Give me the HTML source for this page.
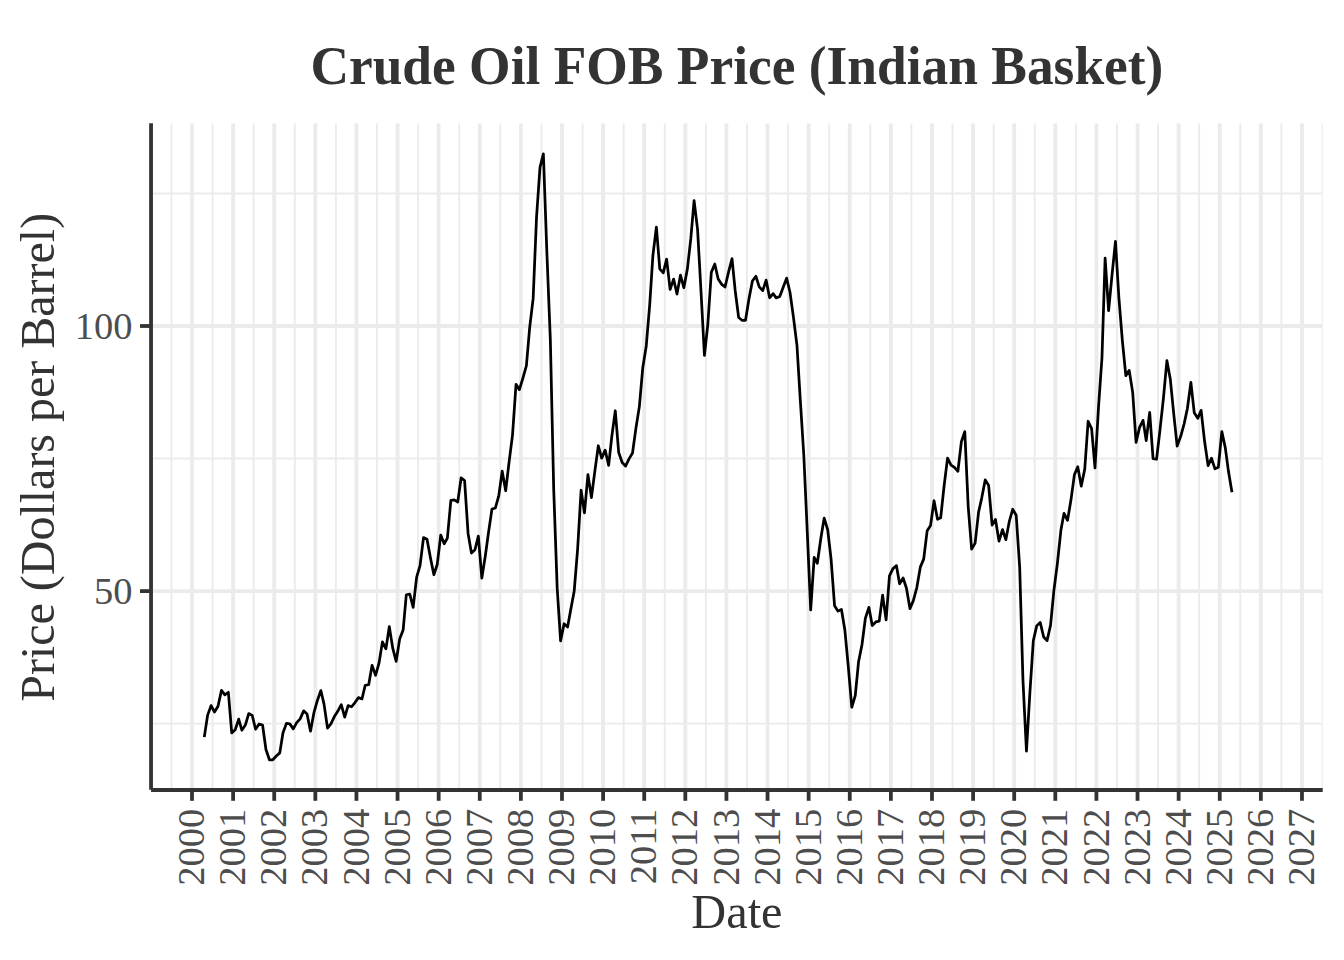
<!DOCTYPE html>
<html><head><meta charset="utf-8"><style>
html,body{margin:0;padding:0;background:#fff;}
svg{display:block;}
text{font-family:"Liberation Serif",serif;}
.ax{font-size:38.5px;fill:#4D4D4D;}
.axt{font-size:48.3px;fill:#333333;}
.title{font-size:55px;font-weight:bold;fill:#333333;}
</style></head><body>
<svg width="1344" height="960" viewBox="0 0 1344 960">
<rect width="1344" height="960" fill="#fff"/>
<defs><clipPath id="pc"><rect x="151.05" y="123.2" width="1171.65" height="666.80"/></clipPath></defs>
<g clip-path="url(#pc)">
<line x1="151.05" x2="1322.7" y1="723.65" y2="723.65" stroke="#EBEBEB" stroke-width="1.9"/>
<line x1="151.05" x2="1322.7" y1="458.55" y2="458.55" stroke="#EBEBEB" stroke-width="1.9"/>
<line x1="151.05" x2="1322.7" y1="193.45" y2="193.45" stroke="#EBEBEB" stroke-width="1.9"/>
<line x1="171.44" x2="171.44" y1="123.2" y2="790.0" stroke="#EBEBEB" stroke-width="1.9"/>
<line x1="212.56" x2="212.56" y1="123.2" y2="790.0" stroke="#EBEBEB" stroke-width="1.9"/>
<line x1="253.66" x2="253.66" y1="123.2" y2="790.0" stroke="#EBEBEB" stroke-width="1.9"/>
<line x1="294.77" x2="294.77" y1="123.2" y2="790.0" stroke="#EBEBEB" stroke-width="1.9"/>
<line x1="335.88" x2="335.88" y1="123.2" y2="790.0" stroke="#EBEBEB" stroke-width="1.9"/>
<line x1="377.00" x2="377.00" y1="123.2" y2="790.0" stroke="#EBEBEB" stroke-width="1.9"/>
<line x1="418.11" x2="418.11" y1="123.2" y2="790.0" stroke="#EBEBEB" stroke-width="1.9"/>
<line x1="459.21" x2="459.21" y1="123.2" y2="790.0" stroke="#EBEBEB" stroke-width="1.9"/>
<line x1="500.32" x2="500.32" y1="123.2" y2="790.0" stroke="#EBEBEB" stroke-width="1.9"/>
<line x1="541.43" x2="541.43" y1="123.2" y2="790.0" stroke="#EBEBEB" stroke-width="1.9"/>
<line x1="582.55" x2="582.55" y1="123.2" y2="790.0" stroke="#EBEBEB" stroke-width="1.9"/>
<line x1="623.65" x2="623.65" y1="123.2" y2="790.0" stroke="#EBEBEB" stroke-width="1.9"/>
<line x1="664.76" x2="664.76" y1="123.2" y2="790.0" stroke="#EBEBEB" stroke-width="1.9"/>
<line x1="705.88" x2="705.88" y1="123.2" y2="790.0" stroke="#EBEBEB" stroke-width="1.9"/>
<line x1="746.99" x2="746.99" y1="123.2" y2="790.0" stroke="#EBEBEB" stroke-width="1.9"/>
<line x1="788.10" x2="788.10" y1="123.2" y2="790.0" stroke="#EBEBEB" stroke-width="1.9"/>
<line x1="829.21" x2="829.21" y1="123.2" y2="790.0" stroke="#EBEBEB" stroke-width="1.9"/>
<line x1="870.31" x2="870.31" y1="123.2" y2="790.0" stroke="#EBEBEB" stroke-width="1.9"/>
<line x1="911.42" x2="911.42" y1="123.2" y2="790.0" stroke="#EBEBEB" stroke-width="1.9"/>
<line x1="952.53" x2="952.53" y1="123.2" y2="790.0" stroke="#EBEBEB" stroke-width="1.9"/>
<line x1="993.64" x2="993.64" y1="123.2" y2="790.0" stroke="#EBEBEB" stroke-width="1.9"/>
<line x1="1034.76" x2="1034.76" y1="123.2" y2="790.0" stroke="#EBEBEB" stroke-width="1.9"/>
<line x1="1075.87" x2="1075.87" y1="123.2" y2="790.0" stroke="#EBEBEB" stroke-width="1.9"/>
<line x1="1116.97" x2="1116.97" y1="123.2" y2="790.0" stroke="#EBEBEB" stroke-width="1.9"/>
<line x1="1158.09" x2="1158.09" y1="123.2" y2="790.0" stroke="#EBEBEB" stroke-width="1.9"/>
<line x1="1199.19" x2="1199.19" y1="123.2" y2="790.0" stroke="#EBEBEB" stroke-width="1.9"/>
<line x1="1240.31" x2="1240.31" y1="123.2" y2="790.0" stroke="#EBEBEB" stroke-width="1.9"/>
<line x1="1281.41" x2="1281.41" y1="123.2" y2="790.0" stroke="#EBEBEB" stroke-width="1.9"/>
<line x1="1322.53" x2="1322.53" y1="123.2" y2="790.0" stroke="#EBEBEB" stroke-width="1.9"/>
<line x1="151.05" x2="1322.7" y1="591.10" y2="591.10" stroke="#EBEBEB" stroke-width="3.8"/>
<line x1="151.05" x2="1322.7" y1="326.00" y2="326.00" stroke="#EBEBEB" stroke-width="3.8"/>
<line x1="192.00" x2="192.00" y1="123.2" y2="790.0" stroke="#EBEBEB" stroke-width="3.8"/>
<line x1="233.11" x2="233.11" y1="123.2" y2="790.0" stroke="#EBEBEB" stroke-width="3.8"/>
<line x1="274.22" x2="274.22" y1="123.2" y2="790.0" stroke="#EBEBEB" stroke-width="3.8"/>
<line x1="315.33" x2="315.33" y1="123.2" y2="790.0" stroke="#EBEBEB" stroke-width="3.8"/>
<line x1="356.44" x2="356.44" y1="123.2" y2="790.0" stroke="#EBEBEB" stroke-width="3.8"/>
<line x1="397.55" x2="397.55" y1="123.2" y2="790.0" stroke="#EBEBEB" stroke-width="3.8"/>
<line x1="438.66" x2="438.66" y1="123.2" y2="790.0" stroke="#EBEBEB" stroke-width="3.8"/>
<line x1="479.77" x2="479.77" y1="123.2" y2="790.0" stroke="#EBEBEB" stroke-width="3.8"/>
<line x1="520.88" x2="520.88" y1="123.2" y2="790.0" stroke="#EBEBEB" stroke-width="3.8"/>
<line x1="561.99" x2="561.99" y1="123.2" y2="790.0" stroke="#EBEBEB" stroke-width="3.8"/>
<line x1="603.10" x2="603.10" y1="123.2" y2="790.0" stroke="#EBEBEB" stroke-width="3.8"/>
<line x1="644.21" x2="644.21" y1="123.2" y2="790.0" stroke="#EBEBEB" stroke-width="3.8"/>
<line x1="685.32" x2="685.32" y1="123.2" y2="790.0" stroke="#EBEBEB" stroke-width="3.8"/>
<line x1="726.43" x2="726.43" y1="123.2" y2="790.0" stroke="#EBEBEB" stroke-width="3.8"/>
<line x1="767.54" x2="767.54" y1="123.2" y2="790.0" stroke="#EBEBEB" stroke-width="3.8"/>
<line x1="808.65" x2="808.65" y1="123.2" y2="790.0" stroke="#EBEBEB" stroke-width="3.8"/>
<line x1="849.76" x2="849.76" y1="123.2" y2="790.0" stroke="#EBEBEB" stroke-width="3.8"/>
<line x1="890.87" x2="890.87" y1="123.2" y2="790.0" stroke="#EBEBEB" stroke-width="3.8"/>
<line x1="931.98" x2="931.98" y1="123.2" y2="790.0" stroke="#EBEBEB" stroke-width="3.8"/>
<line x1="973.09" x2="973.09" y1="123.2" y2="790.0" stroke="#EBEBEB" stroke-width="3.8"/>
<line x1="1014.20" x2="1014.20" y1="123.2" y2="790.0" stroke="#EBEBEB" stroke-width="3.8"/>
<line x1="1055.31" x2="1055.31" y1="123.2" y2="790.0" stroke="#EBEBEB" stroke-width="3.8"/>
<line x1="1096.42" x2="1096.42" y1="123.2" y2="790.0" stroke="#EBEBEB" stroke-width="3.8"/>
<line x1="1137.53" x2="1137.53" y1="123.2" y2="790.0" stroke="#EBEBEB" stroke-width="3.8"/>
<line x1="1178.64" x2="1178.64" y1="123.2" y2="790.0" stroke="#EBEBEB" stroke-width="3.8"/>
<line x1="1219.75" x2="1219.75" y1="123.2" y2="790.0" stroke="#EBEBEB" stroke-width="3.8"/>
<line x1="1260.86" x2="1260.86" y1="123.2" y2="790.0" stroke="#EBEBEB" stroke-width="3.8"/>
<line x1="1301.97" x2="1301.97" y1="123.2" y2="790.0" stroke="#EBEBEB" stroke-width="3.8"/>
</g>
<path d="M204.27,737.15 L207.64,715.15 L211.13,705.55 L214.51,712.05 L218.00,706.25 L221.49,690.35 L224.86,694.85 L228.35,692.25 L231.73,732.85 L235.22,729.75 L238.71,719.10 L241.86,730.25 L245.35,725.05 L248.72,713.55 L252.21,715.35 L255.59,729.25 L259.08,723.95 L262.57,725.05 L265.95,749.55 L269.43,759.75 L272.81,759.75 L276.30,755.95 L279.79,752.85 L282.94,733.05 L286.43,723.35 L289.81,723.85 L293.29,728.85 L296.67,722.65 L300.16,718.85 L303.65,710.85 L307.03,713.95 L310.51,731.15 L313.89,712.95 L317.38,700.45 L320.87,690.55 L324.02,704.10 L327.51,728.05 L330.89,723.85 L334.38,716.60 L337.75,711.35 L341.24,704.65 L344.73,717.15 L348.11,705.65 L351.60,706.75 L354.97,702.55 L358.46,697.65 L361.95,698.95 L365.21,685.25 L368.70,684.75 L372.08,665.35 L375.57,675.35 L378.95,663.45 L382.43,641.85 L385.92,648.85 L389.30,626.60 L392.79,648.45 L396.17,661.35 L399.65,639.10 L403.14,630.10 L406.29,594.75 L409.78,594.15 L413.16,607.35 L416.65,577.05 L420.03,565.65 L423.52,537.55 L427.00,539.25 L430.38,557.60 L433.87,574.75 L437.25,564.45 L440.74,535.05 L444.22,543.75 L447.38,538.15 L450.86,500.35 L454.24,499.85 L457.73,502.05 L461.11,477.95 L464.60,480.65 L468.08,533.45 L471.46,553.10 L474.95,549.75 L478.33,536.15 L481.82,578.15 L485.31,555.95 L488.46,532.85 L491.95,509.10 L495.32,508.05 L498.81,495.55 L502.19,471.15 L505.68,490.75 L509.17,461.35 L512.54,434.85 L516.03,384.35 L519.41,389.65 L522.90,378.15 L526.39,365.75 L529.65,327.85 L533.14,298.65 L536.52,217.45 L540.00,167.45 L543.38,153.95 L546.87,252.35 L550.36,340.35 L553.74,490.35 L557.22,588.65 L560.60,640.95 L564.09,623.75 L567.58,626.95 L570.73,609.75 L574.22,590.95 L577.60,549.35 L581.09,490.25 L584.46,512.85 L587.95,474.65 L591.44,497.55 L594.82,471.35 L598.31,445.75 L601.68,458.15 L605.17,450.15 L608.66,465.45 L611.81,436.35 L615.30,410.75 L618.68,452.35 L622.17,462.55 L625.54,466.15 L629.03,458.85 L632.52,453.05 L635.90,428.35 L639.39,406.35 L642.76,367.85 L646.25,345.95 L649.74,304.45 L652.89,255.65 L656.38,227.05 L659.76,268.85 L663.25,272.85 L666.62,259.05 L670.11,289.45 L673.60,279.15 L676.98,294.05 L680.47,275.15 L683.84,287.75 L687.33,269.35 L690.82,238.45 L694.09,200.65 L697.57,229.35 L700.95,290.35 L704.44,355.45 L707.82,324.35 L711.31,272.35 L714.79,264.05 L718.17,278.95 L721.66,284.35 L725.04,287.05 L728.53,272.15 L732.01,258.65 L735.17,290.45 L738.66,317.55 L742.03,320.25 L745.52,320.25 L748.90,299.35 L752.39,280.95 L755.88,276.25 L759.25,286.85 L762.74,290.65 L766.12,280.05 L769.61,297.85 L773.10,293.65 L776.25,297.85 L779.74,296.45 L783.11,287.55 L786.60,278.15 L789.98,292.25 L793.47,317.35 L796.96,345.35 L800.33,400.35 L803.82,455.35 L807.20,530.35 L810.69,609.95 L814.18,557.45 L817.33,563.25 L820.82,538.45 L824.19,518.05 L827.68,529.75 L831.06,558.85 L834.55,605.65 L838.04,611.15 L841.41,609.35 L844.90,630.35 L848.28,666.35 L851.77,707.25 L855.26,695.55 L858.52,662.05 L862.01,644.55 L865.39,618.25 L868.88,607.35 L872.25,625.55 L875.74,621.95 L879.23,621.15 L882.61,595.15 L886.10,619.85 L889.47,575.85 L892.96,568.55 L896.45,565.65 L899.60,583.85 L903.09,578.05 L906.47,588.25 L909.96,608.65 L913.33,600.65 L916.82,587.55 L920.31,567.15 L923.69,559.10 L927.18,530.65 L930.55,525.55 L934.04,500.75 L937.53,519.35 L940.68,517.85 L944.17,485.35 L947.55,458.05 L951.04,465.05 L954.41,467.35 L957.90,471.25 L961.39,441.60 L964.77,431.65 L968.26,507.35 L971.63,549.15 L975.12,543.15 L978.61,511.95 L981.76,497.85 L985.25,479.85 L988.63,485.35 L992.12,525.15 L995.49,519.55 L998.98,541.15 L1002.47,529.55 L1005.85,539.65 L1009.34,521.25 L1012.71,509.25 L1016.20,515.25 L1019.69,567.35 L1022.96,680.35 L1026.45,751.05 L1029.82,693.85 L1033.31,640.85 L1036.69,625.85 L1040.18,622.35 L1043.67,636.95 L1047.04,640.65 L1050.53,625.35 L1053.91,590.35 L1057.40,563.35 L1060.89,530.35 L1064.04,513.35 L1067.53,520.35 L1070.90,500.35 L1074.39,474.85 L1077.77,466.65 L1081.26,486.15 L1084.75,469.15 L1088.12,421.25 L1091.61,428.65 L1094.99,467.85 L1098.48,407.65 L1101.97,357.75 L1105.12,258.15 L1108.61,310.65 L1111.98,275.35 L1115.47,241.45 L1118.85,297.35 L1122.34,340.35 L1125.83,375.65 L1129.20,370.35 L1132.69,392.35 L1136.07,442.35 L1139.56,427.35 L1143.05,420.35 L1146.20,440.55 L1149.69,412.45 L1153.06,458.65 L1156.55,459.25 L1159.93,430.45 L1163.42,398.35 L1166.91,360.65 L1170.28,378.95 L1173.77,414.05 L1177.15,446.05 L1180.64,436.55 L1184.13,423.85 L1187.39,408.55 L1190.88,382.35 L1194.26,412.85 L1197.75,418.35 L1201.12,410.35 L1204.61,441.55 L1208.10,465.65 L1211.48,458.25 L1214.97,468.85 L1218.34,467.35 L1221.83,431.55 L1225.32,447.85 L1228.47,471.35 L1231.96,492.35" fill="none" stroke="#000" stroke-width="2.75" stroke-linejoin="round" stroke-linecap="butt"/>
<g>
<line x1="151.05" x2="151.05" y1="123.2" y2="789.7" stroke="#333333" stroke-width="3.8"/>
<line x1="151.05" x2="1322.7" y1="790.0" y2="790.0" stroke="#333333" stroke-width="3.8"/>
<line x1="140" x2="151.05" y1="591.10" y2="591.10" stroke="#333333" stroke-width="3.8"/>
<line x1="140" x2="151.05" y1="326.00" y2="326.00" stroke="#333333" stroke-width="3.8"/>
<line x1="192.00" x2="192.00" y1="790.0" y2="800.8" stroke="#333333" stroke-width="3.8"/>
<line x1="233.11" x2="233.11" y1="790.0" y2="800.8" stroke="#333333" stroke-width="3.8"/>
<line x1="274.22" x2="274.22" y1="790.0" y2="800.8" stroke="#333333" stroke-width="3.8"/>
<line x1="315.33" x2="315.33" y1="790.0" y2="800.8" stroke="#333333" stroke-width="3.8"/>
<line x1="356.44" x2="356.44" y1="790.0" y2="800.8" stroke="#333333" stroke-width="3.8"/>
<line x1="397.55" x2="397.55" y1="790.0" y2="800.8" stroke="#333333" stroke-width="3.8"/>
<line x1="438.66" x2="438.66" y1="790.0" y2="800.8" stroke="#333333" stroke-width="3.8"/>
<line x1="479.77" x2="479.77" y1="790.0" y2="800.8" stroke="#333333" stroke-width="3.8"/>
<line x1="520.88" x2="520.88" y1="790.0" y2="800.8" stroke="#333333" stroke-width="3.8"/>
<line x1="561.99" x2="561.99" y1="790.0" y2="800.8" stroke="#333333" stroke-width="3.8"/>
<line x1="603.10" x2="603.10" y1="790.0" y2="800.8" stroke="#333333" stroke-width="3.8"/>
<line x1="644.21" x2="644.21" y1="790.0" y2="800.8" stroke="#333333" stroke-width="3.8"/>
<line x1="685.32" x2="685.32" y1="790.0" y2="800.8" stroke="#333333" stroke-width="3.8"/>
<line x1="726.43" x2="726.43" y1="790.0" y2="800.8" stroke="#333333" stroke-width="3.8"/>
<line x1="767.54" x2="767.54" y1="790.0" y2="800.8" stroke="#333333" stroke-width="3.8"/>
<line x1="808.65" x2="808.65" y1="790.0" y2="800.8" stroke="#333333" stroke-width="3.8"/>
<line x1="849.76" x2="849.76" y1="790.0" y2="800.8" stroke="#333333" stroke-width="3.8"/>
<line x1="890.87" x2="890.87" y1="790.0" y2="800.8" stroke="#333333" stroke-width="3.8"/>
<line x1="931.98" x2="931.98" y1="790.0" y2="800.8" stroke="#333333" stroke-width="3.8"/>
<line x1="973.09" x2="973.09" y1="790.0" y2="800.8" stroke="#333333" stroke-width="3.8"/>
<line x1="1014.20" x2="1014.20" y1="790.0" y2="800.8" stroke="#333333" stroke-width="3.8"/>
<line x1="1055.31" x2="1055.31" y1="790.0" y2="800.8" stroke="#333333" stroke-width="3.8"/>
<line x1="1096.42" x2="1096.42" y1="790.0" y2="800.8" stroke="#333333" stroke-width="3.8"/>
<line x1="1137.53" x2="1137.53" y1="790.0" y2="800.8" stroke="#333333" stroke-width="3.8"/>
<line x1="1178.64" x2="1178.64" y1="790.0" y2="800.8" stroke="#333333" stroke-width="3.8"/>
<line x1="1219.75" x2="1219.75" y1="790.0" y2="800.8" stroke="#333333" stroke-width="3.8"/>
<line x1="1260.86" x2="1260.86" y1="790.0" y2="800.8" stroke="#333333" stroke-width="3.8"/>
<line x1="1301.97" x2="1301.97" y1="790.0" y2="800.8" stroke="#333333" stroke-width="3.8"/>
</g>
<text x="132.5" y="604.00" text-anchor="end" class="ax">50</text>
<text x="132.5" y="338.90" text-anchor="end" class="ax">100</text>
<text transform="translate(204.10,808.7) rotate(-90)" text-anchor="end" class="ax">2000</text>
<text transform="translate(245.21,808.7) rotate(-90)" text-anchor="end" class="ax">2001</text>
<text transform="translate(286.32,808.7) rotate(-90)" text-anchor="end" class="ax">2002</text>
<text transform="translate(327.43,808.7) rotate(-90)" text-anchor="end" class="ax">2003</text>
<text transform="translate(368.54,808.7) rotate(-90)" text-anchor="end" class="ax">2004</text>
<text transform="translate(409.65,808.7) rotate(-90)" text-anchor="end" class="ax">2005</text>
<text transform="translate(450.76,808.7) rotate(-90)" text-anchor="end" class="ax">2006</text>
<text transform="translate(491.87,808.7) rotate(-90)" text-anchor="end" class="ax">2007</text>
<text transform="translate(532.98,808.7) rotate(-90)" text-anchor="end" class="ax">2008</text>
<text transform="translate(574.09,808.7) rotate(-90)" text-anchor="end" class="ax">2009</text>
<text transform="translate(615.20,808.7) rotate(-90)" text-anchor="end" class="ax">2010</text>
<text transform="translate(656.31,808.7) rotate(-90)" text-anchor="end" class="ax">2011</text>
<text transform="translate(697.42,808.7) rotate(-90)" text-anchor="end" class="ax">2012</text>
<text transform="translate(738.53,808.7) rotate(-90)" text-anchor="end" class="ax">2013</text>
<text transform="translate(779.64,808.7) rotate(-90)" text-anchor="end" class="ax">2014</text>
<text transform="translate(820.75,808.7) rotate(-90)" text-anchor="end" class="ax">2015</text>
<text transform="translate(861.86,808.7) rotate(-90)" text-anchor="end" class="ax">2016</text>
<text transform="translate(902.97,808.7) rotate(-90)" text-anchor="end" class="ax">2017</text>
<text transform="translate(944.08,808.7) rotate(-90)" text-anchor="end" class="ax">2018</text>
<text transform="translate(985.19,808.7) rotate(-90)" text-anchor="end" class="ax">2019</text>
<text transform="translate(1026.30,808.7) rotate(-90)" text-anchor="end" class="ax">2020</text>
<text transform="translate(1067.41,808.7) rotate(-90)" text-anchor="end" class="ax">2021</text>
<text transform="translate(1108.52,808.7) rotate(-90)" text-anchor="end" class="ax">2022</text>
<text transform="translate(1149.63,808.7) rotate(-90)" text-anchor="end" class="ax">2023</text>
<text transform="translate(1190.74,808.7) rotate(-90)" text-anchor="end" class="ax">2024</text>
<text transform="translate(1231.85,808.7) rotate(-90)" text-anchor="end" class="ax">2025</text>
<text transform="translate(1272.96,808.7) rotate(-90)" text-anchor="end" class="ax">2026</text>
<text transform="translate(1314.07,808.7) rotate(-90)" text-anchor="end" class="ax">2027</text>
<text x="736.9" y="84.2" text-anchor="middle" class="title" textLength="853" lengthAdjust="spacingAndGlyphs">Crude Oil FOB Price (Indian Basket)</text>
<text x="736.9" y="927.8" text-anchor="middle" class="axt">Date</text>
<text transform="translate(53.6,457.3) rotate(-90)" text-anchor="middle" class="axt" textLength="489" lengthAdjust="spacingAndGlyphs">Price (Dollars per Barrel)</text>
</svg>
</body></html>
